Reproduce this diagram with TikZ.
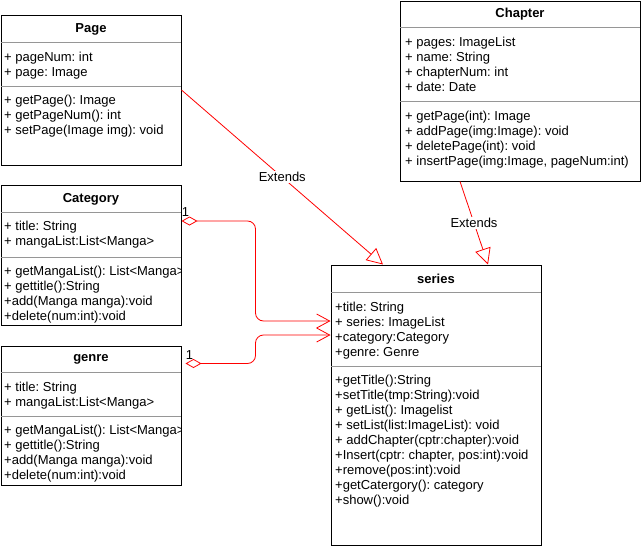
\documentclass[tikz,border=0pt]{standalone}
\usepackage{fontspec}
\setmainfont{Liberation Sans}
\usetikzlibrary{arrows.meta}
\definecolor{sepgray}{RGB}{150,150,150}
\tikzset{
  classbox/.style={draw, line width=1pt, inner sep=0pt},
  classtitle/.style={inner sep=0pt, font=\fontsize{13}{15}\selectfont\bfseries},
  members/.style={anchor=base west, inner sep=0pt, font=\fontsize{13}{15}\selectfont\frenchspacing},
  sepline/.style={draw=sepgray, line width=1pt},
  extends/.style={draw=red, line width=0.8pt, -{Triangle[open,length=16pt,width=16pt]}},
  aggr/.style={draw=red, line width=0.8pt, rounded corners=8pt,
    {Diamond[open,length=16pt,width=9pt]}-{Straight Barb[length=13pt,width=14pt]}},
  extlabel/.style={fill=white, inner sep=1pt, font=\fontsize{13}{15}\selectfont},
  mult/.style={anchor=south west, inner sep=0pt, yshift=4pt, font=\fontsize{13}{15}\selectfont}
}
\begin{document}
\begin{tikzpicture}[x=1pt,y=-1pt]
 \useasboundingbox (0,0) rectangle (641,546);
 % Page
 \node[classbox, minimum width=180pt, minimum height=150pt] (page) at (91,90) {};
 \node[classtitle] (pagetitle) at (91,29.5) {Page};
 \draw[sepline] (1,42) -- (181,42);
 \draw[sepline] (1,86) -- (181,86);
 \node[members] (pageattr) at (4,61) {\begin{tabular}[t]{@{}l@{}}+ pageNum: int\\+ page: Image\end{tabular}};
 \node[members] (pageops) at (4,104) {\begin{tabular}[t]{@{}l@{}}+ getPage(): Image\\+ getPageNum(): int\\+ setPage(Image img): void\end{tabular}};
 % Category
 \node[classbox, minimum width=180pt, minimum height=140pt] (category) at (91,255) {};
 \node[classtitle] (cattitle) at (91,199.5) {Category};
 \draw[sepline] (1,212) -- (181,212);
 \draw[sepline] (1,257) -- (181,257);
 \node[members] (catattr) at (4,230) {\begin{tabular}[t]{@{}l@{}}+ title: String\\+ mangaList:List<Manga>\end{tabular}};
 \begin{scope}
  \clip (category.south west) rectangle (category.north east);
  \node[members] (catops) at (4,275) {\begin{tabular}[t]{@{}l@{}}+ getMangaList(): List<Manga>\\+ gettitle():String\\+add(Manga manga):void\\+delete(num:int):void\end{tabular}};
 \end{scope}
 % genre
 \node[classbox, minimum width=180pt, minimum height=139pt] (genre) at (91,415.5) {};
 \node[classtitle] (genretitle) at (91,359.5) {genre};
 \draw[sepline] (1,372) -- (181,372);
 \draw[sepline] (1,416) -- (181,416);
 \node[members] (genreattr) at (4,391) {\begin{tabular}[t]{@{}l@{}}+ title: String\\+ mangaList:List<Manga>\end{tabular}};
 \begin{scope}
  \clip (genre.south west) rectangle (genre.north east);
  \node[members] (genreops) at (4,434) {\begin{tabular}[t]{@{}l@{}}+ getMangaList(): List<Manga>\\+ gettitle():String\\+add(Manga manga):void\\+delete(num:int):void\end{tabular}};
 \end{scope}
 % Chapter
 \node[classbox, minimum width=240pt, minimum height=180pt] (chapter) at (520,91) {};
 \node[classtitle] (chaptitle) at (520,14.5) {Chapter};
 \draw[sepline] (400,27) -- (640,27);
 \draw[sepline] (400,101) -- (640,101);
 \node[members] (chapattr) at (405,46) {\begin{tabular}[t]{@{}l@{}}+ pages: ImageList\\+ name: String\\+ chapterNum: int\\+ date: Date\end{tabular}};
 \node[members] (chapops) at (405,120) {\begin{tabular}[t]{@{}l@{}}+ getPage(int): Image\\+ addPage(img:Image): void\\+ deletePage(int): void\\+ insertPage(img:Image, pageNum:int)\end{tabular}};
 % series
 \node[classbox, minimum width=210pt, minimum height=280pt] (series) at (436,405) {};
 \node[classtitle] (sertitle) at (436,278.5) {series};
 \draw[sepline] (331,292) -- (541,292);
 \draw[sepline] (331,366) -- (541,366);
 \node[members] (serattr) at (335,311) {\begin{tabular}[t]{@{}l@{}}+title: String\\+ series: ImageList\\+category:Category\\+genre: Genre\end{tabular}};
 \node[members] (serops) at (335,384) {\begin{tabular}[t]{@{}l@{}}+getTitle():String\\+setTitle(tmp:String):void\\+ getList(): Imagelist\\+ setList(list:ImageList): void\\+ addChapter(cptr:chapter):void\\+Insert(cptr: chapter, pos:int):void\\+remove(pos:int):void\\+getCatergory(): category\\+show():void\end{tabular}};
 % connectors
 \draw[extends] (page.east) -- node[extlabel] (ext1) {Extends} ([xshift=-53pt]series.north);
 \draw[extends] ([xshift=-60pt]chapter.south) -- node[extlabel] (ext2) {Extends} ([xshift=52pt]series.north);
 \draw[aggr] ([yshift=34pt]category.east) node[mult] (catmult) {1} -- ++(74,0) -- ++(0,100) -- ([yshift=84pt]series.west);
 \draw[aggr] ([xshift=4pt,yshift=52pt]genre.east) node[mult] (genremult) {1} -- ++(70,0) -- ++(0,-28.5) -- ([yshift=70pt]series.west);
\end{tikzpicture}
\end{document}
